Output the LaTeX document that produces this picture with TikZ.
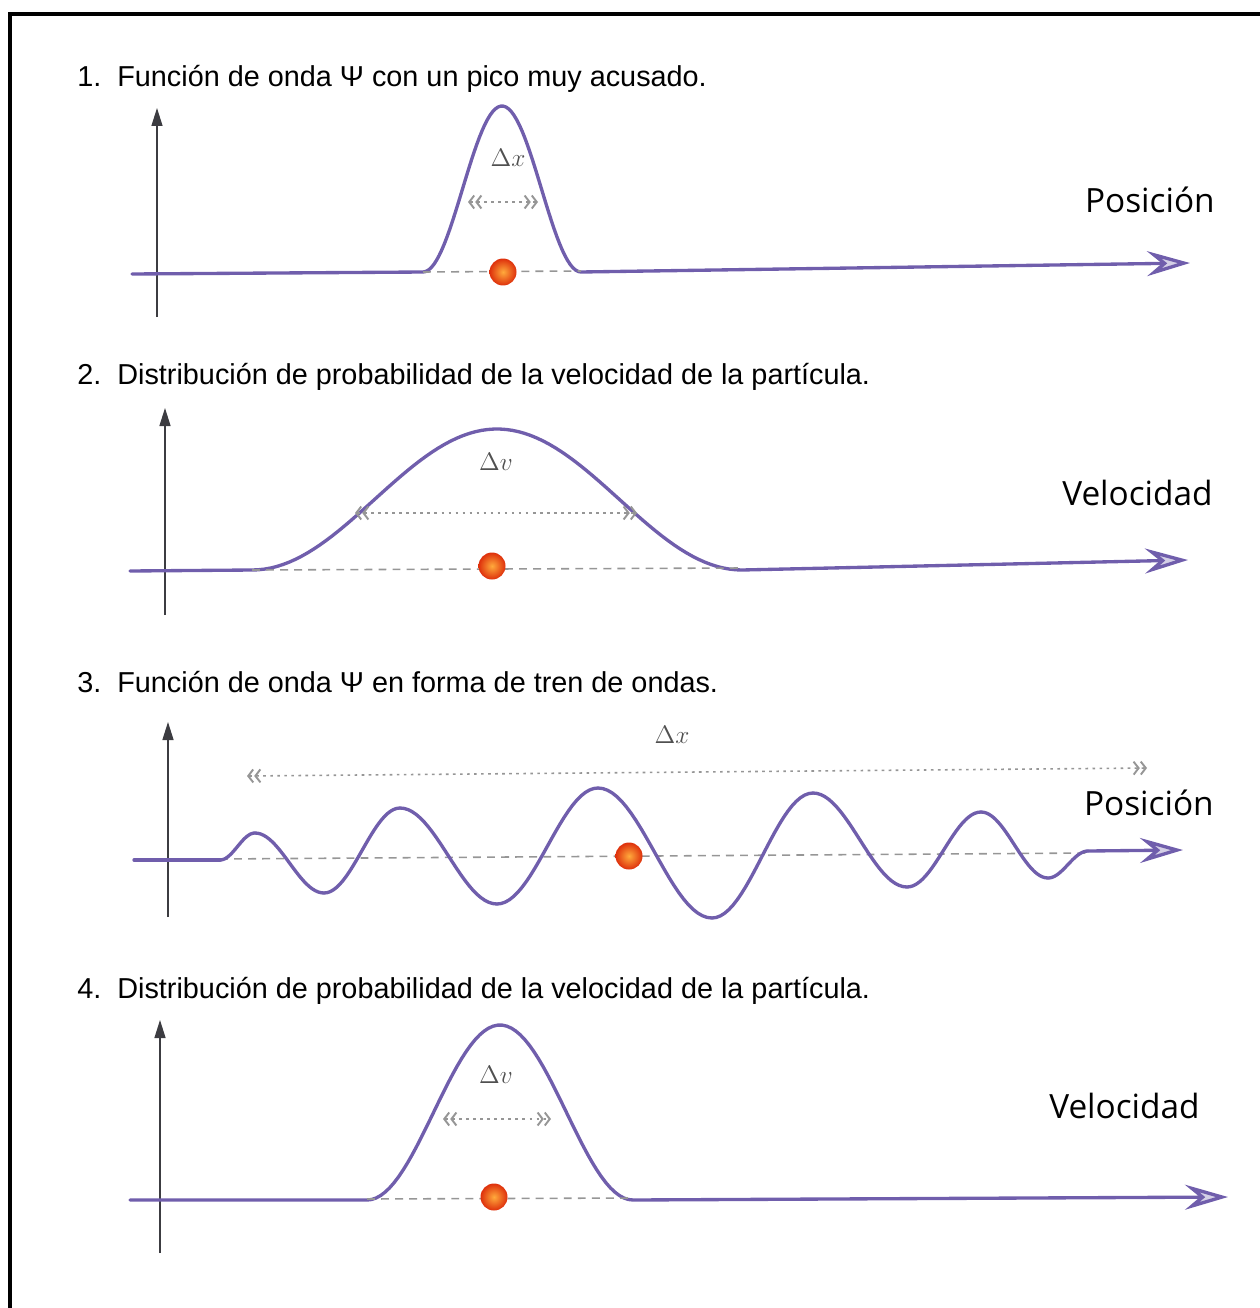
\documentclass[tikz,border=0pt]{standalone}
\usepackage{fontspec}
\setmainfont{Liberation Sans}
\newfontfamily\labelfont{Open Sans}
\usepackage{tikz}
\usetikzlibrary{arrows.meta}
\definecolor{wavecol}{RGB}{112,94,172}
\definecolor{axisgray}{RGB}{60,60,65}
\definecolor{guidegray}{RGB}{150,150,150}
\definecolor{deltagray}{RGB}{80,80,80}
\definecolor{ballcore}{RGB}{255,170,60}
\definecolor{ballrim}{RGB}{222,48,12}

\tikzset{
  caption/.style={inner sep=0pt, anchor=base west, font=\fontsize{16.4}{19}\selectfont},
  quantity/.style={inner sep=0pt, anchor=base east, font=\labelfont\fontsize{19}{22}\selectfont},
  delta/.style={inner sep=0pt, text=deltagray, font=\fontsize{15}{18}\selectfont},
  wave/.style={draw=wavecol, line width=1.9pt, line cap=round, line join=round},
  waveaxis/.style={wave, -{Stealth[length=8.6mm,width=5mm,inset=3mm,fill=wavecol!30]}},
  upaxis/.style={draw=axisgray, line width=0.8pt, -{Triangle[length=3.6mm,width=2.2mm]}},
  guide/.style={draw=guidegray, line width=0.9pt, dash pattern=on 4.5pt off 3.5pt},
  barb/.tip={Straight Barb[length=1mm,width=2.6mm,line width=1.1pt] Straight Barb[length=1mm,width=2.6mm,line width=1.1pt]},
  spread/.style={draw=guidegray, line width=0.9pt, dash pattern=on 1.5pt off 2.5pt, barb-barb},
  particle/.style={circle, minimum size=5.4mm, inner sep=0pt, shading=radial,
    inner color=ballcore, outer color=ballrim},
}

\begin{document}
\begin{tikzpicture}[x=0.02cm, y=-0.02cm]
  \useasboundingbox (0,0) rectangle (1260,1308);
  % frame
  \draw[line width=0.08cm] (10,1308) -- (10,14) -- (1260,14);

  % 1. narrow wave packet
  \node[caption] (num1) at (77,87) {1.};
  \node[caption] (tit1) at (117,87) {Función de onda Ψ con un pico muy acusado.};
  \draw[upaxis] (157,317) -- (157,108);
  \draw[waveaxis] (132,274) -- (423,272)
    -- plot[domain=423:581,samples=60] (\x,{272-166*(0.5+0.5*cos((\x-502)/79*180))})
    -- (1190,263);
  \draw[guide] (423,272) -- (581,271);
  \node[particle] (ball1) at (503,272) {};
  \coordinate (dxl1) at (468,202);
  \coordinate (dxr1) at (538,202);
  \draw[spread] (dxl1) -- (dxr1);
  \node[delta] (dx1) at (508,158) {$\Delta x$};
  \node[quantity] (pos1) at (1215,212) {Posición};

  % 2. broad velocity distribution
  \node[caption] (num2) at (77,384) {2.};
  \node[caption] (tit2) at (117,384) {Distribución de probabilidad de la velocidad de la partícula.};
  \draw[upaxis] (165,615) -- (165,408);
  \draw[waveaxis] (130,571) -- (252,570)
    -- plot[domain=252:742,samples=80] (\x,{570-141*(0.5+0.5*cos((\x-497)/245*180))})
    -- (1188,560);
  \draw[guide] (252,570) -- (742,568);
  \node[particle] (ball2) at (492,566) {};
  \coordinate (dvl2) at (355,513);
  \coordinate (dvr2) at (637,513);
  \draw[spread] (dvl2) -- (dvr2);
  \node[delta] (dv2) at (496,462) {$\Delta v$};
  \node[quantity] (vel2) at (1213,505) {Velocidad};

  % 3. wave train
  \node[caption] (num3) at (77,692) {3.};
  \node[caption] (tit3) at (117,692) {Función de onda Ψ en forma de tren de ondas.};
  \draw[upaxis] (168,917) -- (168,722);
  \draw[guide] (220,859) -- (1088,853);
  \draw[wave] (134,860) -- (220,860);
  \foreach \xa/\ya/\xb/\yb in {220/860/255/833, 255/833/324/893, 324/893/400/808,
      400/808/497/904, 497/904/598/788, 598/788/712/918, 712/918/813/793,
      813/793/907/887, 907/887/981/812, 981/812/1048/878, 1048/878/1088/851}
    \draw[wave] plot[domain=0:1,samples=25]
      ({\xa+(\xb-\xa)*\x},{(\ya+\yb)/2+(\ya-\yb)/2*cos(180*\x)});
  \draw[waveaxis] (1088,851) -- (1183,850);
  \node[particle] (ball3) at (629,856) {};
  \coordinate (dxl3) at (247,776);
  \coordinate (dxr3) at (1147,768);
  \draw[spread] (dxl3) -- (dxr3);
  \node[delta] (dx3) at (672,735) {$\Delta x$};
  \node[quantity] (pos3) at (1214,815) {Posición};

  % 4. narrow velocity distribution
  \node[caption] (num4) at (77,998) {4.};
  \node[caption] (tit4) at (117,998) {Distribución de probabilidad de la velocidad de la partícula.};
  \draw[upaxis] (160,1253) -- (160,1020);
  \draw[waveaxis] (130,1200) -- (367,1200)
    -- plot[domain=367:633,samples=60] (\x,{1200-175*(0.5+0.5*cos((\x-500)/133*180))})
    -- (1228,1197);
  \draw[guide] (367,1199) -- (633,1198);
  \node[particle] (ball4) at (494,1197) {};
  \coordinate (dvl4) at (443,1119);
  \coordinate (dvr4) at (551,1119);
  \draw[spread] (dvl4) -- (dvr4);
  \node[delta] (dv4) at (496,1075) {$\Delta v$};
  \node[quantity] (vel4) at (1200,1118) {Velocidad};
\end{tikzpicture}
\end{document}
